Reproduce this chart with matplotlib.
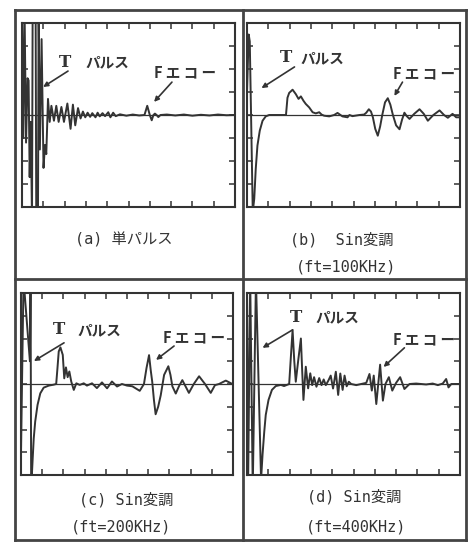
import matplotlib
matplotlib.use('Agg')
import matplotlib.pyplot as plt
from matplotlib.lines import Line2D

plt.rcParams['font.family'] = ['DejaVu Sans Mono', 'Noto Sans CJK JP']

W, H = 468, 542
INK = '#333333'

# ---------------- data (x: 0..10 divisions, y: -4..4 divisions) ----------------
a_x = [0.00, 0.06, 0.12, 0.19, 0.26, 0.31, 0.36, 0.41, 0.47, 0.50,
       0.64, 0.67, 0.75, 0.78, 0.84, 0.92, 1.01, 1.08, 1.14, 1.22,
       1.30, 1.38, 1.50, 1.61, 1.72, 1.85, 1.97, 2.13, 2.28, 2.39,
       2.50, 2.63, 2.75, 2.86, 2.97, 3.08, 3.20, 3.30, 3.45, 3.55,
       3.65, 3.78, 3.90, 4.05, 4.15, 4.28, 4.40, 4.60, 4.90, 5.20,
       5.50, 5.75, 5.88, 6.00, 6.09, 6.17, 6.24, 6.32, 6.40, 6.50,
       6.80, 7.20, 7.60, 8.00, 8.40, 8.80, 9.20, 9.60, 10.0]
a_y = [4.6, -1.0, 4.6, -1.2, 1.6, 1.5, -2.7, -0.3, -4.6, 4.6,
       4.6, -4.6, -4.6, 4.6, -1.5, 3.3, -2.3, -1.3, -1.7, 0.7,
       -0.3, 0.4, -0.25, 0.4, -0.3, 0.35, -0.3, 0.5, -0.6, 0.45,
       -0.45, 0.3, -0.15, 0.15, -0.1, 0.1, -0.08, 0.08, -0.1, 0.1,
       -0.06, 0.08, -0.05, 0.12, -0.1, 0.1, -0.05, 0.03, -0.03, 0.02,
       -0.02, 0.0, 0.4, 0.0, -0.23, 0.0, 0.06, 0.0, -0.09, 0.0,
       0.02, -0.02, 0.02, -0.03, 0.01, -0.02, 0.02, -0.01, 0.0]

b_x = [0.00, 0.08, 0.13, 0.27, 0.34, 0.41, 0.49, 0.60, 0.73, 0.88,
       1.04, 1.30, 1.83, 1.90, 1.98, 2.14, 2.29, 2.42, 2.53, 2.65,
       2.76, 2.92, 3.08, 3.23, 3.39, 3.50, 3.62, 3.86, 4.09, 4.25,
       4.48, 4.72, 4.81, 4.95, 5.28, 5.50, 5.60, 5.72, 5.82, 5.91,
       6.02, 6.14, 6.25, 6.35, 6.48, 6.61, 6.73, 6.85, 7.00, 7.16,
       7.28, 7.39, 7.50, 7.63, 7.85, 8.10, 8.30, 8.49, 8.75, 9.04,
       9.25, 9.43, 9.65, 9.82, 10.0]
b_y = [1.0, 3.5, 3.2, -4.2, -3.65, -2.35, -1.33, -0.68, -0.25, -0.06,
       0.0, 0.0, 0.0, 0.75, 0.96, 1.1, 0.91, 0.7, 0.81, 0.62,
       0.48, 0.33, 0.12, 0.07, 0.12, 0.02, -0.03, -0.06, 0.0, 0.09,
       -0.06, -0.1, 0.0, -0.05, 0.0, 0.02, 0.1, 0.25, 0.15, -0.1,
       -0.6, -0.9, -0.5, 0.0, 0.55, 0.73, 0.45, 0.0, -0.45, -0.62,
       -0.2, 0.1, -0.05, -0.17, 0.05, 0.25, 0.05, -0.25, 0.0, 0.2,
       0.0, -0.12, 0.05, -0.1, -0.1]

c_x = [0.00, 0.12, 0.42, 0.45, 0.48, 0.55, 0.60, 0.67, 0.78, 0.91,
       1.07, 1.31, 1.54, 1.66, 1.72, 1.78, 1.86, 1.97, 2.04, 2.12,
       2.20, 2.28, 2.37, 2.49, 2.61, 2.77, 2.96, 3.11, 3.35, 3.58,
       3.82, 4.06, 4.29, 4.53, 4.76, 5.00, 5.25, 5.60, 5.80, 5.92,
       6.04, 6.12, 6.19, 6.27, 6.35, 6.47, 6.59, 6.75, 6.95, 7.05,
       7.14, 7.30, 7.45, 7.61, 7.76, 7.92, 8.15, 8.40, 8.68, 8.95,
       9.15, 9.34, 9.66, 9.97]
c_y = [-3.0, 4.6, 1.0, 4.6, -4.6, -3.3, -2.4, -1.65, -0.92, -0.41,
       -0.16, -0.07, -0.03, 0.0, 0.7, 1.43, 1.61, 1.28, 0.25, 0.73,
       0.3, 0.55, 0.11, -0.26, 0.03, -0.04, 0.03, -0.07, 0.03, -0.18,
       0.07, -0.19, 0.11, -0.11, 0.0, -0.07, -0.1, -0.3, 0.0, 0.7,
       1.27, 0.6, 0.1, -0.7, -1.33, -1.0, -0.5, 0.4, 0.78, 0.4,
       -0.1, -0.42, -0.1, 0.17, -0.1, -0.39, 0.0, 0.34, 0.0, -0.39,
       -0.05, 0.0, 0.15, 0.0]

d_x = [0.00, 0.05, 0.15, 0.27, 0.42, 0.66, 0.73, 0.81, 0.88, 1.01,
       1.17, 1.35, 1.59, 1.74, 1.98, 2.06, 2.14, 2.22, 2.29, 2.40,
       2.53, 2.59, 2.65, 2.76, 2.87, 2.97, 3.06, 3.15, 3.26, 3.39,
       3.50, 3.60, 3.70, 3.82, 3.93, 4.04, 4.17, 4.28, 4.38, 4.49,
       4.58, 4.68, 4.78, 4.89, 5.13, 5.36, 5.60, 5.75, 5.86, 5.95,
       6.07, 6.25, 6.38, 6.50, 6.66, 6.82, 7.00, 7.19, 7.39, 7.63,
       7.94, 8.41, 8.72, 8.96, 9.19, 9.35, 9.46, 9.59, 9.98]
d_y = [4.6, -4.6, 4.6, -4.6, 4.6, -4.2, -3.1, -2.1, -1.36, -0.7,
       -0.26, -0.09, -0.04, -0.09, 0.0, 1.2, 2.37, 1.0, 0.1, 1.0,
       2.0, 0.6, -0.7, 0.76, -0.19, 0.47, -0.05, 0.3, -0.12, 0.26,
       -0.05, 0.2, -0.05, 0.15, 0.37, -0.2, 0.54, -0.48, 0.46, -0.26,
       0.37, -0.1, 0.1, 0.0, -0.05, 0.0, 0.05, 0.44, -0.29, 0.37,
       -0.88, 0.85, -0.73, 0.0, 0.3, -0.29, 0.05, 0.3, -0.22, 0.0,
       0.02, -0.02, 0.02, -0.05, 0.02, 0.22, -0.15, 0.0, 0.0]

t_label = 'T'
p_label = 'パルス'
f_label = 'F エ コ ー'
captions = [('(a) 単パルス', None),
            ('(b)  Sin変調', '(ft=100KHz)'),
            ('(c) Sin変調', '(ft=200KHz)'),
            ('(d) Sin変調', '(ft=400KHz)')]

# ---------------- layout ----------------
fig = plt.figure(figsize=(W / 100, H / 100), dpi=100)
fig.patch.set_facecolor('white')


def rect(l, t, r, b):
    return [l / W, 1 - b / H, (r - l) / W, (b - t) / H]


def fx(px):
    return px / W


def fy(py):
    return 1 - py / H


# outer frame and dividers
frame_kw = dict(color='#444444', lw=2.0, transform=fig.transFigure)
for (x0, y0, x1, y1) in [(15, 10, 466, 10), (15, 540, 466, 540), (15, 10, 15, 540),
                         (466, 10, 466, 540), (243, 10, 243, 540), (15, 279, 466, 279)]:
    fig.add_artist(Line2D([fx(x0), fx(x1)], [fy(y0), fy(y1)], **frame_kw))

panels = [
    dict(box=(22, 23, 235, 207), x=a_x, y=a_y,
         t=(2.02, 2.3), p=(3.99, 2.3), ta=((2.16, 1.91), (0.99, 1.22)),
         f=(7.65, 1.87), fa=((7.04, 1.43), (6.2, 0.57)),
         cap=(124, 240), cap2=None),
    dict(box=(247, 23, 460, 207), x=b_x, y=b_y,
         t=(1.85, 2.48), p=(3.54, 2.48), ta=((2.23, 2.09), (0.68, 1.17)),
         f=(8.33, 1.83), fa=((7.3, 1.43), (6.92, 0.83)),
         cap=(342, 240), cap2=(346, 267)),
    dict(box=(21, 293, 233, 475), x=c_x, y=c_y,
         t=(1.79, 2.38), p=(3.68, 2.38), ta=((2.03, 1.81), (0.61, 1.01)),
         f=(8.16, 2.03), fa=((7.22, 1.67), (6.37, 1.06)),
         cap=(126, 500), cap2=(121, 527)),
    dict(box=(247, 293, 460, 475), x=d_x, y=d_y,
         t=(2.32, 2.91), p=(4.25, 2.91), ta=((2.14, 2.38), (0.73, 1.59)),
         f=(8.29, 1.94), fa=((7.39, 1.59), (6.41, 0.75)),
         cap=(354, 497), cap2=(356, 527)),
]

lab_kw = dict(family=['Noto Sans CJK JP'], weight='bold', fontsize=10.5,
              color=INK, ha='center', va='center', clip_on=False)
arrow_kw = dict(arrowstyle='-|>', lw=1.2, color=INK, mutation_scale=7,
                shrinkA=0, shrinkB=0)

for pnl, (cap1, cap2) in zip(panels, captions):
    ax = fig.add_axes(rect(*pnl['box']))
    ax.set_xlim(0, 10)
    ax.set_ylim(-4, 4)
    ax.set_facecolor('white')
    ax.axhline(0, color=INK, lw=0.9, zorder=1)
    ax.plot(pnl['x'], pnl['y'], color=INK, lw=1.4, solid_joinstyle='round',
            zorder=2)
    ax.set_xticks(range(1, 10))
    ax.set_yticks(range(-3, 4))
    ax.tick_params(direction='in', length=4, width=1.1, color=INK,
                   top=True, bottom=True, left=True, right=True,
                   labelbottom=False, labelleft=False)
    for s in ax.spines.values():
        s.set_color(INK)
        s.set_linewidth(1.5)

    ax.text(*pnl['t'], t_label, family=['DejaVu Serif'], weight='bold',
            fontsize=12, color=INK, ha='center', va='center', clip_on=False)
    ax.text(*pnl['p'], p_label, **lab_kw)
    ax.text(*pnl['f'], f_label, **lab_kw)
    ax.annotate('', xy=pnl['ta'][1], xytext=pnl['ta'][0], arrowprops=arrow_kw)
    ax.annotate('', xy=pnl['fa'][1], xytext=pnl['fa'][0], arrowprops=arrow_kw)

    fig.text(fx(pnl['cap'][0]), fy(pnl['cap'][1]), cap1, fontsize=11,
             color=INK, ha='center', va='center')
    if cap2 is not None:
        fig.text(fx(pnl['cap2'][0]), fy(pnl['cap2'][1]), cap2, fontsize=11,
                 color=INK, ha='center', va='center')

fig.savefig('out.png', dpi=100, facecolor='white')
